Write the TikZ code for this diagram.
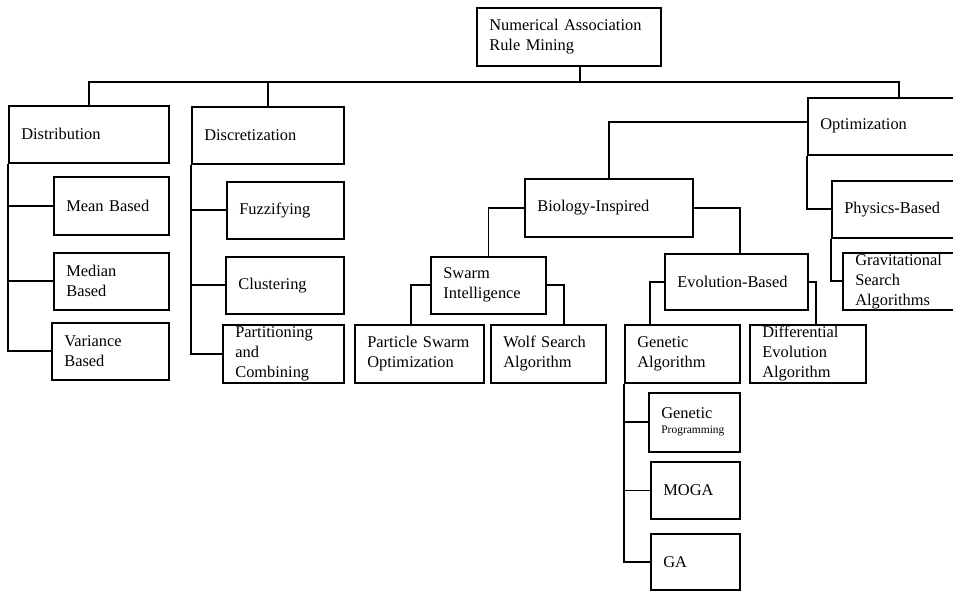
\documentclass[tikz,border=0pt]{standalone}
\usepackage{fontspec}
\setmainfont{Liberation Serif}
\tikzset{
  box/.style={draw, line width=1.2pt, rectangle, inner xsep=9.4pt, inner ysep=0pt,
    align=left, anchor=north west, font=\fontsize{12.3}{15}\selectfont},
  link/.style={line width=1.2pt}
}
\newcommand{\mybox}[6]{%
  \pgfmathsetmacro{\mybw}{(#4-#2)*0.75-18.8}%
  \pgfmathsetmacro{\mybh}{(#5-#3)*0.75}%
  \node[box, text width=\mybw pt, minimum height=\mybh pt] (#1) at (#2,#3) {#6};}
\begin{document}
\begin{tikzpicture}[x=0.75pt,y=-0.75pt]
\useasboundingbox (0,0) rectangle (953,591);
\mybox{root}{476}{7}{660}{65}{Numerical Association\\Rule Mining}
\mybox{dist}{8}{105}{168}{162}{Distribution}
\mybox{disc}{191}{106}{343}{163}{Discretization}
\mybox{opt}{807}{97}{989}{154}{Optimization}
\mybox{mean}{53}{176}{168}{234}{Mean Based}
\mybox{median}{53}{252}{168}{309}{Median\\Based}
\mybox{var}{51}{322}{168}{379}{Variance\\Based}
\mybox{fuzz}{226}{181}{343}{238}{Fuzzifying}
\mybox{clus}{225}{256}{343}{313}{Clustering}
\mybox{part}{222}{324}{343}{382}{Partitioning\\and\\Combining}
\mybox{bio}{524}{178}{692}{236}{Biology-Inspired}
\mybox{swarm}{430}{256}{545}{313}{Swarm\\Intelligence}
\mybox{pso}{354}{324}{483}{382}{Particle Swarm\\Optimization}
\mybox{wolf}{490}{324}{605}{382}{Wolf Search\\Algorithm}
\mybox{evol}{664}{253}{807}{309}{Evolution-Based}
\mybox{gen}{624}{324}{739}{382}{Genetic\\Algorithm}
\mybox{diff}{749}{324}{865}{382}{Differential\\Evolution\\Algorithm}
\mybox{phys}{831}{180}{990}{237}{Physics-Based}
\mybox{grav}{842}{252}{990}{309}{Gravitational\\Search\\Algorithms}
\mybox{gp}{648}{392}{739}{451}{Genetic\\[-3.75pt]{\fontsize{8.6}{10}\selectfont Programming}}
\mybox{moga}{650}{461}{739}{518}{MOGA}
\mybox{ga}{650}{533}{739}{589}{GA}
% connectors
\coordinate (bus) at (580,82);
\draw[link] (root.south -| bus) -- (bus);
\draw[link] (dist.north) |- (bus) -| (opt.north);
\draw[link] (disc.north) -- (disc.north |- bus);
\draw[link] (dist.south west) |- (var.west);
\draw[link] (dist.south west |- mean.west) -- (mean.west);
\draw[link] (dist.south west |- median.west) -- (median.west);
\draw[link] (disc.south west) |- (part.west);
\draw[link] (disc.south west |- fuzz.west) -- (fuzz.west);
\draw[link] (disc.south west |- clus.west) -- (clus.west);
\draw[link] ([yshift=3.4pt]opt.west) -| (bio.north);
\draw[link] (opt.south west) |- (phys.west);
\draw[link] (phys.south west) |- (grav.west);
\draw[link] (bio.west) -| (swarm.north);
\draw[link] (bio.east) -| ([xshift=2.6pt]evol.north);
\draw[link] (swarm.west) -| ([xshift=-6.4pt]pso.north);
\draw[link] (swarm.east) -| ([xshift=11.6pt]wolf.north);
\draw[link] (evol.west) -| ([xshift=-24.4pt]gen.north);
\draw[link] (evol.east) -| ([xshift=6pt]diff.north);
\draw[link] (gen.south west) |- (ga.west);
\draw[link] (gen.south west |- gp.west) -- (gp.west);
\draw[link] (gen.south west |- moga.west) -- (moga.west);
\end{tikzpicture}
\end{document}
